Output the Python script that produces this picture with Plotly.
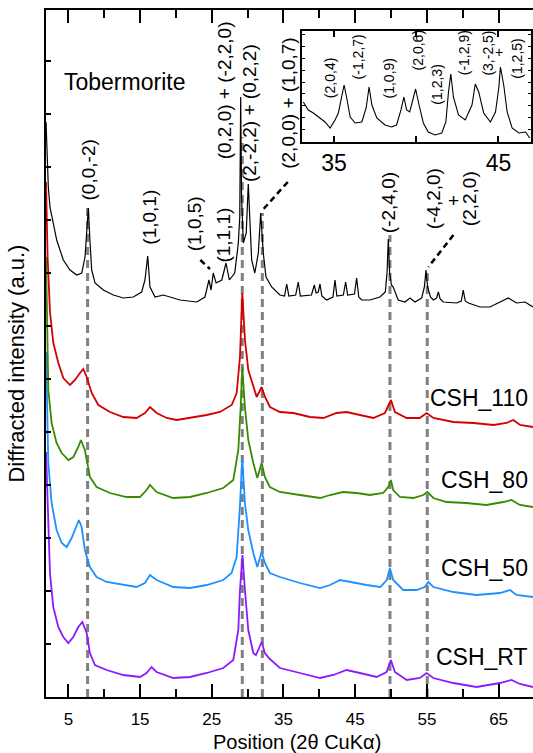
import plotly.graph_objects as go

# ---------------- data (2theta in degrees, intensity in arbitrary units) ----------------
tob_theta = [1.88, 2.2, 2.43, 2.89, 3.37, 4.29, 5.22, 6.16, 6.86, 7.32, 7.55, 7.78, 8.0, 8.25, 8.71,
             9.87, 11.26, 12.66, 14.05, 15.22, 15.68, 16.06, 16.38, 17.08, 18.24, 20.56, 22.9, 24.05,
             24.6, 24.9, 25.2, 25.6, 26.4, 26.98, 27.45, 28.2, 28.7, 28.9, 29.03, 29.15, 29.4, 29.8,
             30.09, 30.56, 31.0, 31.49, 31.82, 32.18, 32.56, 33.35, 34.5, 35.15, 35.45, 35.75, 36.7,
             37.06, 37.35, 38.9, 39.3, 39.55, 39.85, 40.09, 40.35, 41.02, 41.9, 42.18, 42.45, 43.35,
             43.67, 43.95, 44.9, 45.2, 45.5, 45.9, 47.06, 48.45, 49.2, 49.45, 49.62, 49.8, 50.05,
             50.3, 51.0, 51.94, 52.64, 53.34, 54.27, 54.65, 54.88, 55.1, 55.5, 55.9, 56.35, 56.6,
             56.85, 57.3, 59.15, 59.8, 60.07, 60.35, 60.8, 62.4, 63.8, 65.2, 66.35, 67.5, 68.7, 69.8]
tob_int = [575, 510, 490, 474, 457, 437, 427, 422, 424, 440, 467, 489, 457, 427, 414,
           407, 402, 399, 400, 405, 417, 441, 410, 400, 402, 397, 395, 400,
           417, 407, 424, 414, 417, 434, 417, 424, 454, 480, 600, 500, 454, 464,
           513, 437, 424, 444, 484, 444, 420, 410, 402, 401, 413, 401, 402,
           415, 401, 402, 412, 404, 405, 413, 401, 397, 400, 417, 401, 402,
           415, 402, 403, 419, 400, 397, 397, 400, 405, 425, 458, 425, 412,
           410, 397, 395, 399, 395, 399, 410, 427, 410, 400, 397, 399, 405,
           398, 395, 394, 396, 407, 396, 394, 390, 390, 395, 399, 394, 395, 390]

csh110_theta = [1.88, 2.1, 2.43, 2.9, 3.6, 4.29, 5.22, 5.92, 6.62, 7.08, 7.55, 8.25, 9.17, 10.8, 12.66,
                14.52, 15.68, 16.38, 17.31, 18.7, 20.1, 21.96, 24.29, 26.14, 27.78, 28.47, 28.93, 29.25,
                29.63, 30.09, 30.79, 31.26, 31.96, 32.42, 33.12, 34.5, 36.37, 38.7, 40.55, 42.4, 43.8,
                45.66, 47.52, 49.15, 49.99, 50.55, 52.18, 54.0, 54.97, 55.9, 58.7, 61.5, 64.3, 66.1,
                67.05, 68.0, 69.8]
csh110_int = [515, 440, 385, 354, 334, 319, 312, 317, 324, 328, 320, 304, 292, 285, 280,
              279, 284, 290, 284, 279, 277, 279, 282, 285, 292, 304, 340, 404,
              357, 327, 310, 300, 310, 300, 290, 285, 284, 280, 279, 284, 285,
              282, 279, 284, 297, 285, 279, 279, 284, 279, 275, 274, 272, 274,
              277, 272, 270]

csh80_theta = [1.88, 2.2, 2.66, 3.35, 4.07, 5.0, 5.69, 6.38, 6.74, 7.3, 8.0, 8.93, 10.8, 13.1, 14.99,
               15.9, 16.37, 17.3, 19.6, 21.96, 24.3, 26.6, 28.0, 28.7, 29.03, 29.25, 29.62, 30.09,
               30.79, 31.35, 31.95, 32.4, 33.1, 34.5, 37.3, 40.1, 41.5, 43.3, 45.2, 47.05, 48.9,
               49.6, 49.98, 50.3, 51.24, 53.1, 54.5, 55.06, 55.9, 57.75, 60.5, 63.3, 65.65, 66.8,
               67.97, 69.8]
csh80_int = [440, 307, 274, 254, 244, 237, 240, 250, 257, 247, 220, 210, 204, 200, 200,
             207, 212, 205, 199, 200, 204, 209, 217, 247, 290, 330, 290, 257,
             234, 219, 234, 220, 210, 205, 202, 199, 202, 205, 204, 202, 204,
             210, 217, 207, 200, 199, 202, 205, 199, 195, 194, 192, 195, 197,
             192, 190]

csh50_theta = [1.88, 2.2, 2.66, 3.35, 4.07, 4.76, 5.45, 5.91, 6.46, 6.84, 7.3, 8.0, 8.93, 10.33, 12.66,
               14.5, 15.67, 16.37, 17.3, 19.63, 21.95, 24.3, 26.6, 27.76, 28.46, 28.92, 29.25, 29.62,
               30.09, 30.79, 31.35, 31.95, 32.4, 33.1, 34.5, 37.3, 40.1, 41.5, 42.9, 44.3, 46.6,
               48.5, 49.4, 49.84, 50.3, 51.7, 53.57, 54.7, 55.2, 55.9, 58.7, 61.93, 65.2, 66.6,
               67.5, 69.8]
csh50_int = [345, 234, 194, 167, 154, 150, 159, 167, 177, 170, 147, 130, 120, 115, 112,
             110, 114, 122, 117, 110, 109, 112, 117, 124, 140, 190, 239, 194,
             167, 144, 130, 145, 134, 124, 120, 114, 109, 112, 117, 115, 112,
             110, 117, 129, 117, 107, 107, 110, 115, 110, 105, 102, 104, 107,
             102, 100]

cshrt_theta = [1.88, 2.2, 2.43, 2.89, 3.59, 4.29, 4.99, 5.68, 6.38, 6.94, 7.55, 8.0, 8.7, 10.33, 12.66,
               14.99, 15.9, 16.6, 17.3, 19.63, 21.95, 24.3, 26.6, 28.0, 28.7, 28.93, 29.28, 29.62,
               30.09, 30.79, 31.16, 31.96, 32.4, 33.1, 34.5, 37.3, 40.1, 41.95, 43.8, 45.66, 47.98,
               49.38, 49.98, 50.54, 52.18, 54.03, 54.96, 55.9, 58.68, 61.93, 65.18, 66.8, 67.97, 69.8]
cshrt_int = [245, 174, 124, 90, 70, 60, 54, 60, 70, 75, 64, 44, 32, 27, 22,
             20, 24, 30, 25, 19, 20, 24, 29, 37, 67, 107, 142, 107,
             67, 44, 42, 55, 44, 38, 29, 24, 19, 22, 27, 24, 20,
             25, 37, 25, 17, 19, 24, 19, 14, 10, 14, 17, 13, 10]

# inset: tobermorite, 33-47 degrees
inset_theta = [33.13, 33.43, 33.74, 34.04, 34.45, 34.76, 35.06, 35.26, 35.47, 35.61, 35.77, 35.98, 36.28,
               36.69, 36.95, 37.13, 37.3, 37.6, 38.1, 38.5, 38.8, 39.07, 39.25, 39.41, 39.6, 39.8,
               39.96, 40.17, 40.43, 40.73, 41.14, 41.55, 41.8, 41.96, 42.1, 42.26, 42.57, 42.98,
               43.39, 43.59, 43.8, 44.1, 44.51, 44.82, 45.02, 45.12, 45.32, 45.53, 45.83, 46.24,
               46.65, 46.9]
inset_int = [40, 32, 29, 25, 20, 14, 22, 29, 45, 57, 44, 25, 19,
             20, 34, 55, 37, 24, 17, 15, 17, 32, 45, 32, 30, 42,
             53, 37, 19, 10, 7, 9, 20, 50, 68, 45, 27, 22,
             37, 58, 50, 29, 20, 30, 54, 75, 57, 30, 14, 9,
             10, 4]

ref_theta = [7.68, 29.25, 32.05, 49.85, 55.05]      # dashed reflection markers
ref_top = [494, 560, 484, 462, 427]

x_major = [5, 15, 25, 35, 45, 55, 65]
inset_ticks = [35, 40, 45]
inset_ticktext = ["35", "", "45"]

series_names = ["Tobermorite", "CSH_110", "CSH_80", "CSH_50", "CSH_RT"]
series_colors = ["#000000", "#d40000", "#3a8a00", "#1e90ff", "#8c1aff"]

FONT = "Liberation Sans, Arial, Helvetica, sans-serif"

fig = go.Figure()

# reference dashed lines
shapes = []
for xv, top in zip(ref_theta, ref_top):
    shapes.append(dict(type="line", xref="x", yref="y", x0=xv, x1=xv, y0=0, y1=top,
                       line=dict(color="#808080", width=3, dash="8px,5px"), layer="below"))
# leader lines for labels
for (xa, ya, xb, yb) in [(23.4, 437, 24.75, 428), (35.6, 515, 31.96, 486), (58.7, 462, 55.2, 430)]:
    shapes.append(dict(type="line", xref="x", yref="y", x0=xa, y0=ya, x1=xb, y1=yb,
                       line=dict(color="#000000", width=2.5, dash="6px,4px")))

data_sets = [(cshrt_theta, cshrt_int, 4), (csh50_theta, csh50_int, 3), (csh80_theta, csh80_int, 2),
             (csh110_theta, csh110_int, 1), (tob_theta, tob_int, 0)]
for xs, ys, i in data_sets:
    fig.add_trace(go.Scatter(x=xs, y=ys, mode="lines", name=series_names[i],
                             line=dict(color=series_colors[i], width=1.2 if i == 0 else 1.8),
                             hoverinfo="skip"))

fig.add_trace(go.Scatter(x=inset_theta, y=inset_int, mode="lines", xaxis="x2", yaxis="y2",
                         line=dict(color="#000000", width=1.1), hoverinfo="skip"))

ann = []
def lab(x, y, text, size, angle=-90, ref=("x", "y"), xanchor="center"):
    ann.append(dict(x=x, y=y, xref=ref[0], yref=ref[1], text=text, showarrow=False,
                    textangle=angle, xanchor=xanchor, yanchor="middle",
                    font=dict(family=FONT, size=size, color="#000000")))

S = 19
lab(7.8, 527, "(0,0,-2)", S)
lab(16.2, 480, "(1,0,1)", S)
lab(22.55, 473, "(1,0,5)", S)
lab(26.5, 462, "(1,1,1)", S)
lab(26.75, 607, "(0,2,0) + (-2,2,0)", S)
lab(30.2, 584, "(2,-2,2) + (0,2,2)", S)
lab(35.6, 594, "(2,0,0) + (1,0,7)", S)
lab(49.6, 494, "(-2,4,0)", S)
lab(55.9, 498, "(-4,2,0)", S)
lab(58.75, 497, "+", S, angle=0)
lab(60.9, 498, "(2,2,0)", S)

I = 14
r2 = ("x2", "y2")
lab(34.76, 64, "(2,0,4)", I, ref=r2)
lab(36.48, 85, "(-1,2,7)", I, ref=r2)
lab(38.37, 64, "(1,0,9)", I, ref=r2)
lab(40.13, 92, "(2,0,6)", I, ref=r2)
lab(41.24, 57, "(1,2,3)", I, ref=r2)
lab(42.92, 89, "(-1,2,9)", I, ref=r2)
lab(44.34, 89, "(3,-2,5)", I, ref=r2)
lab(45.03, 90, "+", I, angle=0, ref=r2)
lab(46.11, 83, "(1,2,5)", I, ref=r2)

# sample names
lab(4.1, 615, series_names[0], 23, angle=0, xanchor="left")
lab(69.4, 299, series_names[1], 23, angle=0, xanchor="right")
lab(69.4, 217, series_names[2], 23, angle=0, xanchor="right")
lab(69.4, 129, series_names[3], 23, angle=0, xanchor="right")
lab(69.4, 40, series_names[4], 23, angle=0, xanchor="right")

# axis titles
ann.append(dict(x=0.5148, y=-0.066, xref="paper", yref="paper", text="Position (2θ CuKα)",
                showarrow=False, xanchor="center", yanchor="middle",
                font=dict(family=FONT, size=20, color="#000000")))
ann.append(dict(x=-0.06, y=0.485, xref="paper", yref="paper", text="Diffracted intensity (a.u.)",
                showarrow=False, textangle=-90, xanchor="center", yanchor="middle",
                font=dict(family=FONT, size=22, color="#000000")))

fig.update_layout(
    width=533, height=753,
    margin=dict(l=46, r=0, t=10, b=56),
    paper_bgcolor="white", plot_bgcolor="white",
    showlegend=False, hovermode=False,
    font=dict(family=FONT, color="#000000"),
    shapes=shapes, annotations=ann,
    xaxis=dict(range=[1.876, 69.8], domain=[0, 1], showgrid=False, zeroline=False,
               showline=True, linecolor="#000000", linewidth=2, mirror="ticks",
               ticks="inside", tickmode="array", tickvals=x_major, ticklen=13, tickwidth=2,
               tickcolor="#000000",
               minor=dict(dtick=5, tick0=5, ticks="inside", ticklen=8, tickwidth=2, tickcolor="#000000"),
               tickfont=dict(family=FONT, size=17, color="#000000"), ticklabelstandoff=6),
    yaxis=dict(range=[0, 687], domain=[0, 1], showgrid=False, zeroline=False,
               showline=True, linecolor="#000000", linewidth=2, mirror=False,
               ticks="inside", tick0=0, dtick=53, ticklen=5, tickwidth=1.5, tickcolor="#000000",
               showticklabels=False),
    xaxis2=dict(anchor="y2", domain=[0.5257, 0.9959], range=[33.05, 46.98], showgrid=False,
                zeroline=False, showline=True, linecolor="#000000", linewidth=1.5, mirror="ticks",
                ticks="inside", tickmode="array", tickvals=inset_ticks, ticktext=inset_ticktext,
                ticklen=6, tickwidth=1.5, tickcolor="#000000",
                tickfont=dict(family=FONT, size=23, color="#000000"), ticklabelstandoff=0),
    yaxis2=dict(anchor="x2", domain=[0.8079, 0.9694], range=[0, 111], showgrid=False,
                zeroline=False, showline=True, linecolor="#000000", linewidth=1.5, mirror="ticks",
                ticks="inside", tick0=0, dtick=12, ticklen=3, tickwidth=1, tickcolor="#000000",
                showticklabels=False),
)

fig.write_html("out.html", config={"displayModeBar": False},
               post_script="document.body.style.margin='0';document.body.style.overflow='hidden';")
